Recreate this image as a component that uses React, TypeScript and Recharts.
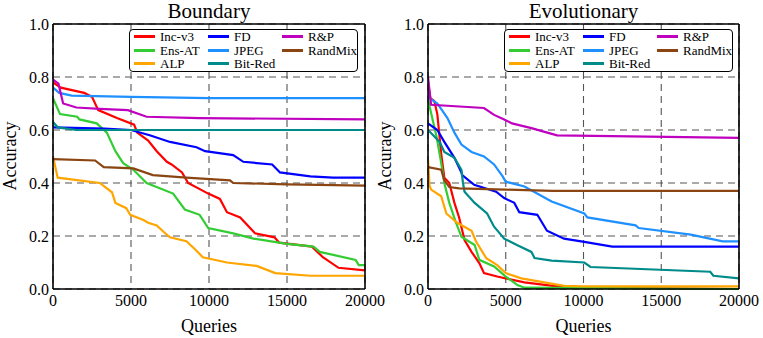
import React from 'react';
import { LineChart, Line, XAxis, YAxis, CartesianGrid, Legend } from 'recharts';

const Q_TICKS = [0, 5000, 10000, 15000, 20000];
const ACC_TICKS = [0, 0.2, 0.4, 0.6, 0.8, 1.0];
const SERIES_NAMES = ['Inc-v3', 'Ens-AT', 'ALP', 'FD', 'JPEG', 'Bit-Red', 'R&P', 'RandMix'];
const SERIES_COLORS = ['#ff0000', '#33cc33', '#ffa500', '#0000ff', '#1e90ff', '#008b8b', '#bf00bf', '#8b4513'];

// Boundary attack: [queries, accuracy]
const bIncV3 = [[0, 0.78], [500, 0.76], [2000, 0.74], [2500, 0.725], [2900, 0.675], [4100, 0.645], [5200, 0.62], [5400, 0.59], [6100, 0.56], [6650, 0.52], [7300, 0.48], [7600, 0.47], [8270, 0.44], [8660, 0.4], [9950, 0.36], [10700, 0.34], [11150, 0.29], [12000, 0.27], [12950, 0.21], [14200, 0.195], [14500, 0.175], [16600, 0.16], [17300, 0.12], [18300, 0.08], [20000, 0.07]];
const bEnsAT = [[0, 0.72], [450, 0.66], [1550, 0.65], [1700, 0.64], [2800, 0.625], [3450, 0.59], [4000, 0.52], [4500, 0.475], [5150, 0.45], [6000, 0.4], [7700, 0.36], [8450, 0.3], [9400, 0.28], [9950, 0.23], [11550, 0.21], [12850, 0.19], [15000, 0.17], [16700, 0.16], [17100, 0.14], [19400, 0.11], [19600, 0.09], [20000, 0.09]];
const bALP = [[0, 0.5], [300, 0.42], [3000, 0.4], [3780, 0.365], [4000, 0.325], [4700, 0.305], [4950, 0.28], [5800, 0.26], [6100, 0.25], [6650, 0.24], [7100, 0.215], [7500, 0.195], [8550, 0.18], [9100, 0.15], [9600, 0.12], [11150, 0.1], [13050, 0.087], [14250, 0.06], [16500, 0.05], [20000, 0.05]];
const bFD = [[0, 0.61], [3300, 0.605], [5000, 0.6], [6200, 0.58], [7500, 0.555], [9200, 0.535], [9750, 0.52], [11550, 0.505], [12200, 0.48], [14050, 0.47], [14550, 0.44], [16500, 0.425], [17950, 0.42], [20000, 0.42]];
const bJPEG = [[0, 0.76], [400, 0.74], [1200, 0.73], [5000, 0.725], [10000, 0.72], [20000, 0.72]];
const bBitRed = [[0, 0.63], [300, 0.61], [1500, 0.6], [20000, 0.6]];
const bRP = [[0, 0.79], [350, 0.775], [650, 0.7], [1500, 0.685], [3000, 0.68], [4800, 0.675], [6000, 0.65], [9400, 0.645], [20000, 0.64]];
const bRandMix = [[0, 0.49], [2700, 0.485], [3250, 0.46], [5150, 0.455], [6400, 0.43], [8550, 0.42], [11350, 0.41], [11550, 0.4], [15000, 0.395], [20000, 0.39]];

// Evolutionary attack
const eIncV3 = [[0, 0.78], [150, 0.72], [400, 0.71], [600, 0.66], [850, 0.51], [1050, 0.42], [1370, 0.4], [1700, 0.325], [2000, 0.27], [2350, 0.185], [2800, 0.14], [3300, 0.098], [3600, 0.06], [4450, 0.047], [6200, 0.025], [8300, 0.01], [10000, 0.005], [20000, 0]];
const eEnsAT = [[0, 0.72], [100, 0.69], [550, 0.575], [850, 0.475], [1050, 0.4], [1370, 0.325], [1800, 0.25], [2150, 0.197], [3000, 0.166], [3300, 0.11], [4250, 0.085], [5000, 0.047], [5750, 0.015], [6200, 0.005], [20000, 0]];
const eALP = [[0, 0.49], [100, 0.39], [200, 0.375], [850, 0.35], [1180, 0.285], [1880, 0.25], [2800, 0.22], [3100, 0.178], [3750, 0.116], [4450, 0.09], [5000, 0.06], [6000, 0.04], [7300, 0.027], [8750, 0.012], [10000, 0.01], [20000, 0.01]];
const eFD = [[0, 0.625], [600, 0.6], [1050, 0.555], [1700, 0.495], [2150, 0.44], [2200, 0.43], [2970, 0.393], [4380, 0.367], [4900, 0.343], [5550, 0.325], [5870, 0.29], [7030, 0.28], [7650, 0.22], [8750, 0.19], [10050, 0.178], [11850, 0.16], [20000, 0.16]];
const eJPEG = [[0, 0.76], [100, 0.72], [600, 0.7], [900, 0.675], [1250, 0.645], [1700, 0.59], [2150, 0.545], [2800, 0.517], [3600, 0.5], [4250, 0.47], [4800, 0.425], [5000, 0.405], [6200, 0.387], [7950, 0.33], [10050, 0.285], [10250, 0.27], [13350, 0.24], [13550, 0.23], [16900, 0.205], [18950, 0.18], [20000, 0.18]];
const eBitRed = [[0, 0.6], [750, 0.555], [1050, 0.517], [1700, 0.495], [2150, 0.45], [2250, 0.4], [2350, 0.367], [3000, 0.325], [3800, 0.285], [4250, 0.235], [4900, 0.19], [5750, 0.165], [6650, 0.14], [6850, 0.117], [7950, 0.107], [10050, 0.1], [10450, 0.083], [18150, 0.065], [18350, 0.05], [20000, 0.04]];
const eRP = [[0, 0.8], [200, 0.695], [3600, 0.683], [4250, 0.657], [4900, 0.64], [5400, 0.625], [6650, 0.607], [7500, 0.593], [8300, 0.58], [20000, 0.57]];
const eRandMix = [[0, 0.46], [850, 0.45], [1050, 0.41], [1370, 0.385], [2000, 0.38], [5000, 0.375], [8000, 0.37], [20000, 0.37]];

const BOUNDARY = [bIncV3, bEnsAT, bALP, bFD, bJPEG, bBitRed, bRP, bRandMix];
const EVOLUTIONARY = [eIncV3, eEnsAT, eALP, eFD, eJPEG, eBitRed, eRP, eRandMix];

const FONT = "'Liberation Serif', 'Times New Roman', serif";
const TICK_STYLE = { fill: '#000', fontSize: 16, fontFamily: 'Liberation Serif', style: { fontFamily: FONT } };

function LegendBox() {
  return (
    <div
      style={{
        boxSizing: 'border-box',
        width: 229,
        height: 43,
        border: '1.5px solid #000',
        borderRadius: 4,
        background: '#fff',
        paddingLeft: 4,
        display: 'grid',
        gridTemplateColumns: '74px 74px 1fr',
        gridTemplateRows: 'repeat(3, 13.6px)',
        gridAutoFlow: 'column',
        fontFamily: FONT,
        fontSize: 13,
        lineHeight: '13.6px',
        color: '#000',
      }}
    >
      {SERIES_NAMES.map((name, i) => (
        <div key={name} style={{ display: 'flex', alignItems: 'center', whiteSpace: 'nowrap', fontFamily: FONT }}>
          <span style={{ display: 'inline-block', width: 21, height: 3, background: SERIES_COLORS[i], marginRight: 5 }} />
          <span style={{ fontFamily: FONT }}>{name}</span>
        </div>
      ))}
    </div>
  );
}

function Panel({ title, lines, left, width, rightMargin, yWidth, legendLeft }) {
  const plotLeft = 13 + yWidth;
  const plotWidth = width - plotLeft - rightMargin;
  return (
    <div style={{ position: 'absolute', left, top: 0, width, height: 338, fontFamily: FONT }}>
      <div
        style={{
          position: 'absolute', left: plotLeft, top: 0, width: plotWidth, textAlign: 'center',
          fontFamily: FONT, fontSize: 21, lineHeight: '22px', color: '#000',
        }}
      >
        {title}
      </div>
      <div
        style={{
          position: 'absolute', left: plotLeft, top: 317, width: plotWidth, textAlign: 'center',
          fontFamily: FONT, fontSize: 18, lineHeight: '18px', color: '#000',
        }}
      >
        Queries
      </div>
      <div
        style={{
          position: 'absolute', left: plotLeft - 43 - 50, top: 146, width: 100, height: 20, textAlign: 'center',
          transform: 'rotate(-90deg)', fontFamily: FONT, fontSize: 18, lineHeight: '20px', color: '#000',
        }}
      >
        Accuracy
      </div>
      <LineChart
        width={width}
        height={338}
        margin={{ top: 24, right: rightMargin, bottom: 19, left: 13 }}
        style={{ fontFamily: FONT }}
      >
        <CartesianGrid xAxisId="b" yAxisId="l" stroke="#555" strokeWidth={1.1} strokeDasharray="7 5" />
        <XAxis
          xAxisId="b" dataKey="q" type="number" domain={[0, 20000]} ticks={Q_TICKS} allowDataOverflow
          height={30} tickSize={0} tickMargin={6} axisLine={{ stroke: '#000', strokeWidth: 1.6 }}
          tick={TICK_STYLE}
        />
        <XAxis
          xAxisId="bt" dataKey="q" type="number" domain={[0, 20000]} ticks={Q_TICKS} mirror
          tick={false} tickSize={5} axisLine={false} tickLine={{ stroke: '#000', strokeWidth: 1 }}
        />
        <XAxis
          xAxisId="t" orientation="top" dataKey="q" type="number" domain={[0, 20000]} ticks={Q_TICKS} mirror
          tick={false} tickSize={5} axisLine={{ stroke: '#000', strokeWidth: 1.6 }} tickLine={{ stroke: '#000', strokeWidth: 1 }}
        />
        <YAxis
          yAxisId="l" type="number" domain={[0, 1]} ticks={ACC_TICKS} width={yWidth} tickSize={0} tickMargin={4}
          tickFormatter={(v) => v.toFixed(1)} axisLine={{ stroke: '#000', strokeWidth: 1.6 }}
          tick={TICK_STYLE}
        />
        <YAxis
          yAxisId="lm" type="number" domain={[0, 1]} ticks={ACC_TICKS} mirror tick={false} tickSize={5}
          axisLine={false} tickLine={{ stroke: '#000', strokeWidth: 1 }}
        />
        <YAxis
          yAxisId="r" orientation="right" type="number" domain={[0, 1]} ticks={ACC_TICKS} mirror tick={false}
          tickSize={5} axisLine={{ stroke: '#000', strokeWidth: 1.6 }} tickLine={{ stroke: '#000', strokeWidth: 1 }}
        />
        {lines.map((pts, i) => (
          <Line
            key={SERIES_NAMES[i]}
            xAxisId="b"
            yAxisId="l"
            name={SERIES_NAMES[i]}
            data={pts.map(([q, v]) => ({ q, v }))}
            dataKey="v"
            type="linear"
            stroke={SERIES_COLORS[i]}
            strokeWidth={2.2}
            dot={false}
            activeDot={false}
            isAnimationActive={false}
          />
        ))}
        <Legend
          layout="horizontal"
          verticalAlign="middle"
          align="center"
          content={() => <LegendBox />}
          wrapperStyle={{ left: legendLeft, top: 29, width: 229, height: 43 }}
        />
      </LineChart>
    </div>
  );
}

export default function App() {
  return (
    <div style={{ position: 'absolute', left: 0, top: 0, width: 763, height: 338, background: '#fff', fontFamily: FONT }}>
      <Panel title="Boundary" lines={BOUNDARY} left={0} width={400} rightMargin={35} yWidth={40} legendLeft={129} />
      <Panel title="Evolutionary" lines={EVOLUTIONARY} left={380} width={383} rightMargin={24} yWidth={35} legendLeft={124} />
    </div>
  );
}
